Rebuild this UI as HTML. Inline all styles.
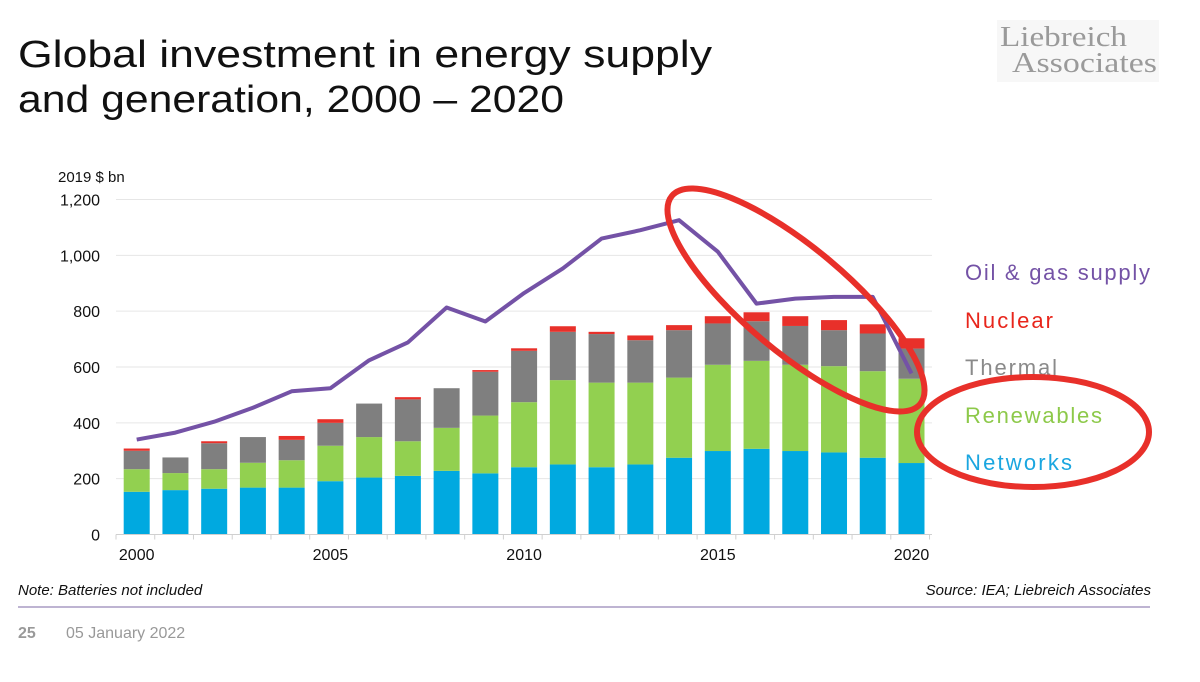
<!DOCTYPE html>
<html><head><meta charset="utf-8">
<style>
html,body{margin:0;padding:0;background:#fff;width:1200px;height:682px;overflow:hidden;font-family:"Liberation Sans",sans-serif;}
svg{display:block}
</style></head>
<body>
<svg id="chart" width="1200" height="682" viewBox="0 0 1200 682">
  <text x="18" y="67" font-size="38" fill="#111" textLength="694" lengthAdjust="spacingAndGlyphs">Global investment in energy supply</text>
  <text x="18" y="112" font-size="38" fill="#111" textLength="546" lengthAdjust="spacingAndGlyphs">and generation, 2000 – 2020</text>
  <g>
    <rect x="997" y="20" width="162" height="62" fill="#f7f7f7"/>
    <text x="1000" y="46" font-family="Liberation Serif,serif" font-size="29" fill="#9a9a9a" textLength="127" lengthAdjust="spacingAndGlyphs">Liebreich</text>
    <text x="1012" y="72" font-family="Liberation Serif,serif" font-size="29" fill="#9a9a9a" textLength="145" lengthAdjust="spacingAndGlyphs">Associates</text>
  </g>
  <text x="58" y="182" font-size="15" fill="#111">2019 $ bn</text>
  <g id="grid"></g>
  <g id="bars"></g>
  <g id="line"></g>
  <g id="axes"></g>
  <g>
    <text x="965" y="280" font-size="22" fill="#7452a6" textLength="185" lengthAdjust="spacing">Oil &amp; gas supply</text>
    <text x="965" y="328" font-size="22" fill="#e8251b" textLength="88" lengthAdjust="spacing">Nuclear</text>
    <text x="965" y="375" font-size="22" fill="#8a8a8a" textLength="92" lengthAdjust="spacing">Thermal</text>
    <text x="965" y="423" font-size="22" fill="#8dc94a" textLength="137" lengthAdjust="spacing">Renewables</text>
    <text x="965" y="470" font-size="22" fill="#1aa6e0" textLength="107" lengthAdjust="spacing">Networks</text>
  </g>
  <ellipse cx="796" cy="300" rx="162" ry="52" transform="rotate(40 796 300)" fill="none" stroke="#e8302a" stroke-width="6"/>
  <ellipse cx="1033" cy="432" rx="116" ry="55" fill="none" stroke="#e8302a" stroke-width="6"/>
  <text x="18" y="595" font-size="15" font-style="italic" fill="#111">Note: Batteries not included</text>
  <text x="1151" y="595" font-size="15" font-style="italic" fill="#111" text-anchor="end">Source: IEA; Liebreich Associates</text>
  <line x1="18" y1="607" x2="1150" y2="607" stroke="#a99cc4" stroke-width="1.5"/>
  <text x="18" y="638" font-size="16" font-weight="bold" fill="#999">25</text>
  <text x="66" y="638" font-size="16" fill="#999">05 January 2022</text>
</svg>
<script>
const years = [2000,2001,2002,2003,2004,2005,2006,2007,2008,2009,2010,2011,2012,2013,2014,2015,2016,2017,2018,2019,2020];
const networks =   [153,159,164,168,168,191,204,210,228,219,241,251,241,251,275,299,307,299,294,275,256];
const renewables = [81,61,70,89,98,127,145,124,154,207,233,302,303,293,287,309,315,309,309,310,302];
const thermal =    [66,56,93,92,73,82,120,150,142,157,184,173,174,152,170,148,142,139,129,135,108];
const nuclear =    [8,0,7,0,14,13,0,8,0,6,9,20,8,17,18,26,32,35,36,33,37];
const oilGas =     [340,365,404,454,513,524,624,688,813,763,865,953,1060,1090,1126,1013,827,845,851,851,577];
const yTicks = [0,200,400,600,800,1000,1200];
const yTickLabels = ["0","200","400","600","800","1,000","1,200"];
const xTickLabels = ["2000","2005","2010","2015","2020"];
const xLabelYears = [2000,2005,2010,2015,2020];

const NS="http://www.w3.org/2000/svg";
const y0=534.5, yTop=199.5, vMax=1200;
const yS = v => y0 - (y0-yTop)*v/vMax;
const xS = yr => 136.7 + (yr-2000)*38.74;
const bw = 26;
function mk(tag, attrs, parent){const e=document.createElementNS(NS,tag);for(const k in attrs)e.setAttribute(k,attrs[k]);parent.appendChild(e);return e;}
const grid=document.getElementById('grid'), bars=document.getElementById('bars'), line=document.getElementById('line'), axes=document.getElementById('axes');
yTicks.forEach((t,i)=>{
  if(t>0){const g=mk('line',{x1:116,x2:932,y1:yS(t),y2:yS(t),stroke:'#e6e6e6','stroke-width':1},grid);
  
  }
  const tx=mk('text',{x:100,y:yS(t)+6,'font-size':16,'text-anchor':'end',fill:'#111'},axes);
  tx.textContent=yTickLabels[i];
  
  
});
const ax=mk('line',{x1:116,x2:932,y1:y0,y2:y0,stroke:'#d0d0d0','stroke-width':1},axes);


for(let i=0;i<=years.length;i++){const x=116+i*38.74;
  const tk=mk('line',{x1:x,x2:x,y1:y0,y2:y0+5,stroke:'#d0d0d0'},axes);
  
  }
xTickLabels.forEach((l,i)=>{const t=mk('text',{x:xS(xLabelYears[i]),y:560,'font-size':16,'text-anchor':'middle',fill:'#111'},axes);
  t.textContent=l;
  
  });
const series=[[networks,'#00a9e0','networks'],[renewables,'#92d050','renewables'],[thermal,'#7f7f7f','thermal'],[nuclear,'#e8302a','nuclear']];
years.forEach((yr,i)=>{let base=0;
  series.forEach(([arr,col,nm])=>{const v=arr[i]; if(v>0){
    const r=mk('rect',{x:xS(yr)-bw/2,y:yS(base+v),width:bw,height:yS(base)-yS(base+v),fill:col},bars);
    
    }
    base+=v;});
});
const pts=years.map((yr,i)=>xS(yr)+','+yS(oilGas[i])).join(' ');
const pl=mk('polyline',{points:pts,fill:'none',stroke:'#7452a6','stroke-width':4,'stroke-linejoin':'round'},line);


</script>
</body></html>
